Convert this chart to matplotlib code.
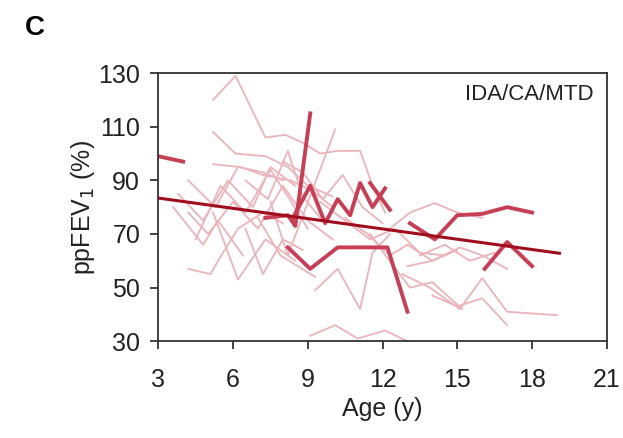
import matplotlib
matplotlib.use("Agg")
import matplotlib.pyplot as plt

plt.rcParams["font.family"] = ["Liberation Sans", "DejaVu Sans"]

# thin individual trajectories (age, ppFEV1)
thin_ages = [
    [5.2, 6.1, 7.3, 8.1, 8.8, 9.5, 10.2, 11.1, 11.6, 12.1],
    [5.2, 6.1, 7.3, 8.2, 9.0, 10.0],
    [4.5, 5.5, 6.5, 7.5, 8.2, 9.0],
    [3.8, 4.8, 5.8, 6.8, 7.5, 8.5],
    [4.2, 5.0, 6.0, 7.0, 8.0, 9.0, 10.0],
    [4.2, 5.1, 5.4, 6.2, 7.2, 8.0],
    [5.2, 6.2, 7.3, 8.5],
    [7.0, 7.9, 8.6, 9.3],
    [6.5, 7.2, 8.0, 8.8],
    [9.1, 10.1, 11.0, 12.1, 13.0, 14.0],
    [9.3, 10.2, 11.1, 11.6, 12.3],
    [12.3, 13.1, 14.1, 15.0, 16.0],
    [12.8, 13.9, 15.1, 16.0, 17.0, 19.0],
    [14.0, 15.0, 16.0, 17.0],
    [13.0, 14.0, 15.1, 16.0, 17.0],
    [11.5, 12.2, 13.1, 14.0, 15.2],
    [10.5, 11.4, 12.3, 13.0, 14.0, 15.0],
    [9.5, 10.5, 11.5, 12.5, 13.5, 14.5],
    [8.0, 8.8, 9.6, 10.4, 11.2, 12.0],
    [7.5, 8.2, 10.1],
    [6.5, 7.4, 8.2, 8.8, 9.5],
    [4.2, 5.3, 6.2, 7.2, 8.0],
    [5.2, 6.3, 7.2, 8.3, 9.2, 10.0],
    [3.6, 4.8, 5.4, 6.4],
    [13.5, 14.5, 15.5, 16.5],
]
thin_values = [
    [120, 129, 106, 107, 104, 100, 101, 101, 88, 78],
    [108, 100, 99, 95, 88, 84],
    [68, 88, 78, 94, 84, 72],
    [85, 75, 90, 80, 95, 88],
    [78, 70, 82, 72, 88, 75, 68],
    [57, 55, 60, 72, 78, 74],
    [78, 53, 68, 60],
    [76, 62, 58, 54],
    [72, 55, 68, 64],
    [32, 36, 31, 34, 30, 29],
    [49, 57, 42, 63, 70],
    [72, 78, 81.5, 78, 76],
    [55, 50, 42, 53.5, 41, 39.7],
    [47, 43, 46, 36],
    [58, 60, 65, 62, 57],
    [70, 61, 50, 52, 42],
    [76, 70, 62, 66, 60, 64],
    [82, 75, 68, 72, 63, 62],
    [97, 93, 83, 92, 80, 74],
    [82, 62, 109],
    [90, 83, 101, 84, 76],
    [90, 80, 95, 93, 90],
    [96, 95, 92, 90, 86, 80],
    [80, 66, 75, 62],
    [62, 66, 60, 63],
]

# thick highlighted trajectories
thick_ages = [
    [3, 4],
    [7.3, 8.2, 8.5, 9.1],
    [8.2, 9.1, 10.2, 11.0, 12.2, 13.0],
    [8.4, 9.1, 9.7, 10.2, 10.7, 11.1, 11.6, 12.1],
    [11.5, 12.3],
    [13.1, 14.1, 15.0, 16.0, 17.0, 18.0],
    [16.1, 17.0, 18.0],
]
thick_values = [
    [99, 97],
    [76, 77, 73, 115],
    [65, 57, 65, 65, 65, 41],
    [76, 88, 74, 83, 77, 89, 80, 87],
    [89, 79],
    [74, 68, 77, 77.5, 80, 78],
    [57, 67, 58],
]

# regression line end points
fit_ages = [3, 19.1]
fit_values = [83.4, 62.8]

fig = plt.figure(figsize=(6.23, 4.38), dpi=100)
ax = fig.add_axes([0.254, 0.221, 0.72, 0.612])

for xs, ys in zip(thin_ages, thin_values):
    ax.plot(xs, ys, color="#ebb3ba", lw=1.3)
for xs, ys in zip(thick_ages, thick_values):
    ax.plot(xs, ys, color="#c63f55", lw=2.8)
ax.plot(fit_ages, fit_values, color="#a00d1c", lw=2.2)

ax.set_xlim(3, 21)
ax.set_ylim(30, 130)
ax.set_xticks([3, 6, 9, 12, 15, 18, 21])
ax.set_yticks([30, 50, 70, 90, 110, 130])
ax.tick_params(axis="both", labelsize=18, direction="out", length=6, width=1.2,
               colors="#222222")
ax.tick_params(axis="x", pad=13)
ax.tick_params(axis="y", pad=7)
for s in ax.spines.values():
    s.set_linewidth(1.3)
    s.set_color("#333333")

ax.set_xlabel("Age (y)", fontsize=18, color="#222222", labelpad=4)
ax.set_ylabel("ppFEV$_1$ (%)", fontsize=18, color="#222222", labelpad=1)
ax.text(0.97, 0.92, "IDA/CA/MTD", transform=ax.transAxes, ha="right", va="center",
        fontsize=16, color="#222222")
fig.text(0.04, 0.935, "C", fontsize=20, fontweight="bold", ha="left", va="center")

fig.savefig("out.png", dpi=100)
